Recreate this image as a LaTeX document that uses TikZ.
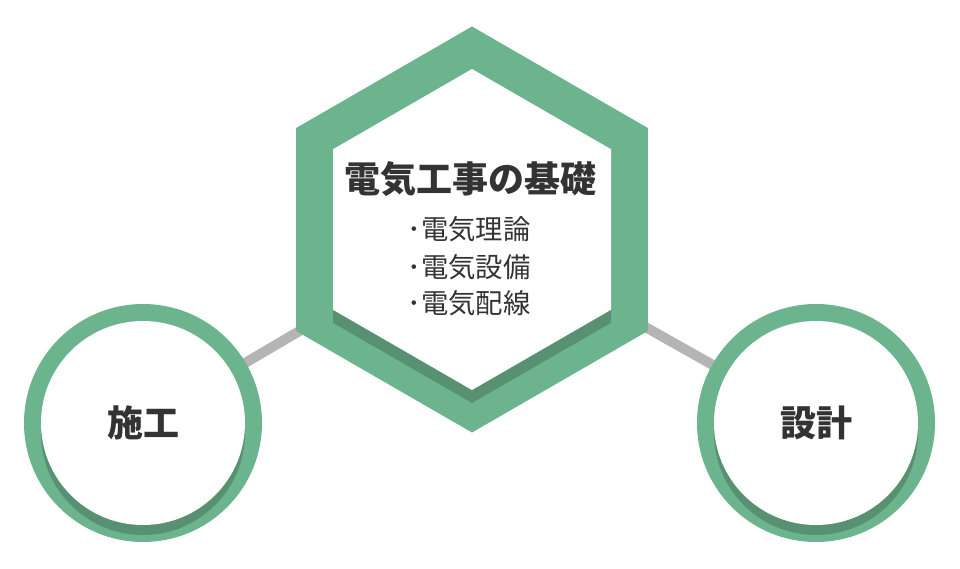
\documentclass[tikz,border=0pt]{standalone}
\usepackage{fontspec}
\setmainfont{Noto Sans CJK JP}
\definecolor{ringgreen}{HTML}{6CB48E}
\definecolor{shadegreen}{HTML}{589171}
\definecolor{linkgray}{HTML}{B4B4B4}
\definecolor{textgray}{HTML}{333333}
\begin{document}
\begin{tikzpicture}[x=0.75pt,y=-0.75pt,
	link/.style={draw=linkgray,line width=7.5pt},
	title/.style={text=textgray,font=\bfseries\fontsize{27}{32}\selectfont},
	item/.style={text=textgray,font=\fontsize{20.5}{24}\selectfont},
	label/.style={text=textgray,font=\bfseries\fontsize{27}{32}\selectfont}]
	\useasboundingbox (0,0) rectangle (960,568);
	\coordinate (hub) at (472,229.5);
	\coordinate (sekou) at (143,423);
	\coordinate (sekkei) at (816,423);
	% links behind the shapes
	\draw[link] (sekou) -- (hub);
	\draw[link] (sekkei) -- (hub);
	% hexagon
	\fill[ringgreen,shift={(hub)}] (90:203) -- (30:203) -- (-30:203) -- (-90:203) -- (-150:203) -- (150:203) -- cycle;
	\fill[shadegreen,shift={(hub)},yshift=-9.75pt] (90:160.5) -- (30:160.5) -- (-30:160.5) -- (-90:160.5) -- (-150:160.5) -- (150:160.5) -- cycle;
	\fill[white,shift={(hub)}] (90:160.5) -- (30:160.5) -- (-30:160.5) -- (-90:160.5) -- (-150:160.5) -- (150:160.5) -- cycle;
	% circles
	\foreach \c in {sekou,sekkei} {
		\fill[ringgreen] (\c) circle (89.25pt);
		\fill[shadegreen] ([yshift=-7.5pt]\c) circle (76.5pt);
		\fill[white] (\c) circle (76.5pt);
	}
	% texts
	\node[title] (head) at (470,179) {電気工事の基礎};
	\node[item] (riron) at (469,229) {･電気理論};
	\node[item] (setsubi) at (469,267) {･電気設備};
	\node[item] (haisen) at (469,303) {･電気配線};
	\node[label] (sekoutext) at (sekou) {施工};
	\node[label] (sekkeitext) at (sekkei) {設計};
\end{tikzpicture}
\end{document}
